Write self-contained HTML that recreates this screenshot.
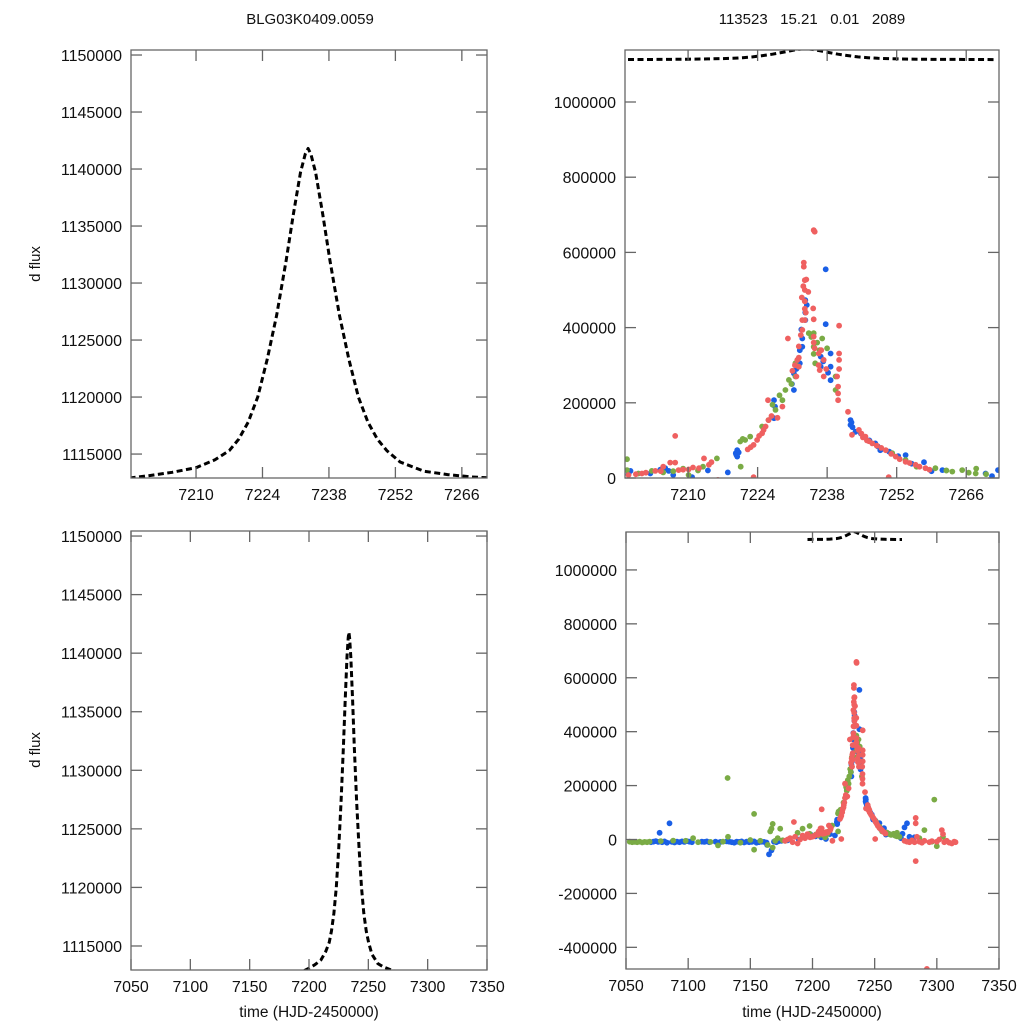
<!DOCTYPE html>
<html><head><meta charset="utf-8"><style>
html,body{margin:0;padding:0;background:#fff;}
svg{display:block;font-family:"Liberation Sans",sans-serif;}
</style></head><body>
<svg id="chart" width="1024" height="1024" viewBox="0 0 1024 1024" xmlns="http://www.w3.org/2000/svg">
<rect x="0" y="0" width="1024" height="1024" fill="#fff"/>
<text x="310" y="24" font-size="15" text-anchor="middle" fill="#111">BLG03K0409.0059</text>
<text x="812" y="24" font-size="15" text-anchor="middle" fill="#111" style="white-space:pre" xml:space="preserve">113523   15.21   0.01   2089</text>
<text transform="translate(40,264) rotate(-90)" font-size="15" text-anchor="middle" fill="#111">d flux</text>
<text transform="translate(40,750) rotate(-90)" font-size="15" text-anchor="middle" fill="#111">d flux</text>
<text x="309" y="1017" font-size="15.5" text-anchor="middle" fill="#111">time (HJD-2450000)</text>
<text x="812" y="1017" font-size="15.5" text-anchor="middle" fill="#111">time (HJD-2450000)</text>
</svg>
<script>
// Model curve
const modelT = [7196,7200,7205,7210,7214,7217,7219,7221,7223,7225,7227,7229,7230.5,7232,7233,7233.6,7234.2,7235.2,7236.7,7238.2,7240.2,7242.2,7244.2,7246.2,7248.2,7250.2,7253,7258,7263,7268,7272];
const modelF = [1112900,1113100,1113400,1113800,1114500,1115300,1116300,1117800,1120000,1123300,1127200,1132000,1136000,1139700,1141300,1141800,1141300,1139700,1136000,1132000,1127200,1123300,1120000,1117800,1116300,1115300,1114300,1113500,1113200,1113000,1112900];

// Observations, flux in thousands
const blueT = [7237.7,7237.7,7233.6,7233.6,7233.6,7233,7233,7232.5,7232.5,7231.3,7231.3,7227.3,7227.3,7219.9,7219.9,7219.6,7236.7,7236.7,7238.7,7238.7,7238.7,7242.7,7242.7,7243.7,7247.7,7248.7,7253.8,7257.5,7261.2,7269.9,7271.2,7272.4,7205.4,7206.1,7198.4,7202.4,7210.8,7204.4,
 7232.8,7233.9,7231.8,7230.9,7237.2,7238.2,7242.9,7243.1,7244.8,7246.5,7248.2,7250.5,7252.3,7255,7259,7220.2,7219.7,7227.5,
 7070,7072,7074,7076,7077,7079,7081,7083,7085,7087,7089,7091,7093,7095,7097,7099,7101,7103,7111,7113,7115,7117,7122,7124,7126,7131,7133,7135,7137,7139,7141,7143,7145,7147,7149,7151,7153,7155,7157,7159,7161,7163,7163.5,7165,7167,7169,7171,7173,7175,7180,7189,7198,7207,7214,7218,7274,7276,7278,7282];
const blueF = [555,409,473,440,420,371,349,340,305,278,234,207,159,74,57,66,323,296,331,296,260,154,141,123,92,74,61,42,21,12,5,21,26,19,19,12,2,22,
 395,460,290,250,310,280,148,135,118,100,84,70,58,38,18,68,62,190,
 -10,-8,-6,-9,25,-10,-7,-12,60,-9,-11,-8,-10,-7,-9,-6,-8,-10,-8,-9,-7,-10,-8,-11,-9,-7,-8,-10,-12,-8,-9,-7,-11,-8,-10,-9,-7,-12,-10,-8,-9,-11,-20,-55,-40,-8,-10,-6,-5,-3,0,10,8,20,15,45,60,10,8,5,-20];
const greenT = [7235.3,7235.3,7235.3,7234.3,7237,7238,7235.6,7239.7,7239.7,7231.6,7231.6,7230.3,7229.6,7229,7227.6,7226.2,7224.9,7221.5,7220.5,7220.6,7251.1,7253.8,7259.8,7263.2,7265.2,7267.9,7215.8,7197.7,7197.7,7200,7202.7,7210.1,
 7236,7236.5,7234.8,7230.8,7228.4,7227,7222.5,7221,7213,7209,7207,7205,7256,7262,7266.5,7270,
 7053,7055,7057,7059,7061,7063,7065,7067,7069,7078,7088,7098,7104,7108,7118,7124,7128,7131.7,7132,7142,7150,7153,7153,7158,7164,7166,7167,7168,7168,7170,7172,7174,7176,7178,7188,7192,7212,7262,7268,7286,7290,7296,7298,7300,7305];
const greenF = [385,349,330,385,371,345,305,270,234,305,270,261,234,207,181,154,137,101,97,30,66,48,26,17,21,12,52,50,21,12,19,8,
 360,340,375,250,220,195,110,104,30,25,18,15,30,20,14,10,
 -8,-10,-9,-10,-8,-11,-9,-10,-8,-6,-4,-5,5,-10,-9,-22,-8,228,10,-12,-2,95,-38,-5,-20,30,40,58,-30,-5,5,40,-3,-5,25,40,20,20,25,5,35,-8,148,-25,10];
const redT = [7235.3,7235.5,7233.3,7233.3,7233.5,7233.5,7233.5,7233.5,7233.5,7232.9,7233.8,7234.2,7235.2,7235.3,7233,7233,7240.4,7230.1,7232.3,7232.3,7232.3,7232,7231.8,7235.3,7235.3,7235.5,7236.3,7236.3,7236.5,7237.3,7237.3,7240.4,7240.4,7240.4,7240,7240.2,7240.2,7240.2,7242.2,7226.1,7226.2,7225.6,7224.9,7223.9,7223.2,7244.4,7245.7,7247.1,7249.8,7251.8,7253.8,7255.8,7257.8,7207.4,7206.4,7207.4,7213.2,7214.2,7212.2,7210.1,7208.1,7203.4,7200.7,7198,7223.2,7250.4,7228,7229,7243,7246,
 7233.2,7233.7,7232.7,7231.5,7231,7236.8,7237.8,7224.3,7225.2,7226.8,7222.6,7222,7244.9,7245.2,7246.4,7248,7248.9,7250.9,7252.6,7254.6,7256.6,7258.6,7211,7209,7204.5,7201.5,7199.5,7214.7,
 7178,7180,7182,7184,7185,7186,7188,7190,7192,7194,7196,7205,7216,7274,7276,7278,7280,7282,7283,7283,7283,7284,7286,7288,7290,7292,7294,7296,7300,7302,7304,7305,7306,7308,7310,7312,7314,7315];
const redF = [659,655,573,562,526,500,470,450,420,480,528,495,451,422,420,394,405,371,350,320,296,314,270,376,360,345,331,300,287,314,270,331,314,290,270,243,225,207,176,207,154,137,119,101,88,128,110,92,74,57,43,35,26,112,41,41,52,35,26,23,21,19,12,8,2,2,160,190,115,100,
 510,440,380,300,285,340,290,112,128,165,82,76,118,108,98,86,80,64,50,40,30,22,28,22,18,14,10,42,
 -5,0,5,-10,65,10,-15,0,15,5,20,30,-5,-5,-8,-10,-3,-10,80,60,-80,10,-8,-12,-5,-480,-10,-6,-8,0,35,20,-10,-5,-12,-15,-8,-10];

const NS='http://www.w3.org/2000/svg';
const svg=document.getElementById('chart');
function mk(tag,attrs,parent){const e=document.createElementNS(NS,tag);for(const k in attrs)e.setAttribute(k,attrs[k]);(parent||svg).appendChild(e);return e;}

const panels=[
 {id:'top-left',x0:131,x1:487,y0:50,y1:478,xd:[7196.3,7271.3],yd:[1112900,1150440],xt:[7210,7224,7238,7252,7266],yt:[1115000,1120000,1125000,1130000,1135000,1140000,1145000,1150000],pts:false},
 {id:'top-right',x0:625,x1:999,y0:50,y1:478,xd:[7197.3,7272.6],yd:[0,1138300],xt:[7210,7224,7238,7252,7266],yt:[0,200000,400000,600000,800000,1000000],pts:true},
 {id:'bottom-left',x0:131,x1:487,y0:531,y1:970,xd:[7050,7350],yd:[1112950,1150430],xt:[7050,7100,7150,7200,7250,7300,7350],yt:[1115000,1120000,1125000,1130000,1135000,1140000,1145000,1150000],pts:false},
 {id:'bottom-right',x0:626,x1:999,y0:532,y1:969,xd:[7050,7350],yd:[-480400,1140700],xt:[7050,7100,7150,7200,7250,7300,7350],yt:[-400000,-200000,0,200000,400000,600000,800000,1000000],pts:true}
];

panels.forEach(p=>{
 const sx=t=>p.x0+(t-p.xd[0])/(p.xd[1]-p.xd[0])*(p.x1-p.x0);
 const sy=v=>p.y1-(v-p.yd[0])/(p.yd[1]-p.yd[0])*(p.y1-p.y0);
 const g=mk('g',{});
 
 
 const cp=mk('clipPath',{id:'clip-'+p.id},g);
 mk('rect',{x:p.x0,y:p.y0,width:p.x1-p.x0,height:p.y1-p.y0},cp);
 const plot=mk('g',{'clip-path':'url(#clip-'+p.id+')'},g);
 
 
 if(p.pts){
  const series=[['blue',blueT,blueF,'#1a5fe6'],['green',greenT,greenF,'#7aab45'],['red',redT,redF,'#ef6060']];
  series.forEach(s=>{
   const sg=mk('g',{fill:s[3]},plot);
   
   
   s[1].forEach((t,i)=>{
    const c=mk('circle',{cx:sx(t).toFixed(1),cy:sy(s[2][i]*1000).toFixed(1),r:2.9},sg);
    
    
   });
  });
 }
 let d='';
 modelT.forEach((t,i)=>{d+=(i?'L':'M')+sx(t).toFixed(1)+' '+sy(modelF[i]).toFixed(1);});
 const path=mk('path',{d:d,fill:'none',stroke:'#000','stroke-width':3,'stroke-dasharray':'6,3.5','stroke-linejoin':'round'},plot);
 
 
 const ax=mk('g',{stroke:'#666','stroke-width':1.3,fill:'none'},g);
 
 
 mk('rect',{x:p.x0,y:p.y0,width:p.x1-p.x0,height:p.y1-p.y0},ax);
 const lab=mk('g',{'font-size':16,fill:'#111'},g);
 p.xt.forEach(t=>{
  const x=sx(t);
  mk('line',{x1:x,y1:p.y1,x2:x,y2:p.y1-11},ax);
  mk('line',{x1:x,y1:p.y0,x2:x,y2:p.y0+11},ax);
  const tx=mk('text',{x:x,y:p.y1+22,'text-anchor':'middle'},lab);
  tx.textContent=String(t);
  
  
 });
 p.yt.forEach(v=>{
  const y=sy(v);
  mk('line',{x1:p.x0,y1:y,x2:p.x0+11,y2:y},ax);
  mk('line',{x1:p.x1,y1:y,x2:p.x1-11,y2:y},ax);
  const ty=mk('text',{x:p.x0-9,y:y+6,'text-anchor':'end'},lab);
  ty.textContent=String(v);
  
  
 });
});
</script>
</body></html>
